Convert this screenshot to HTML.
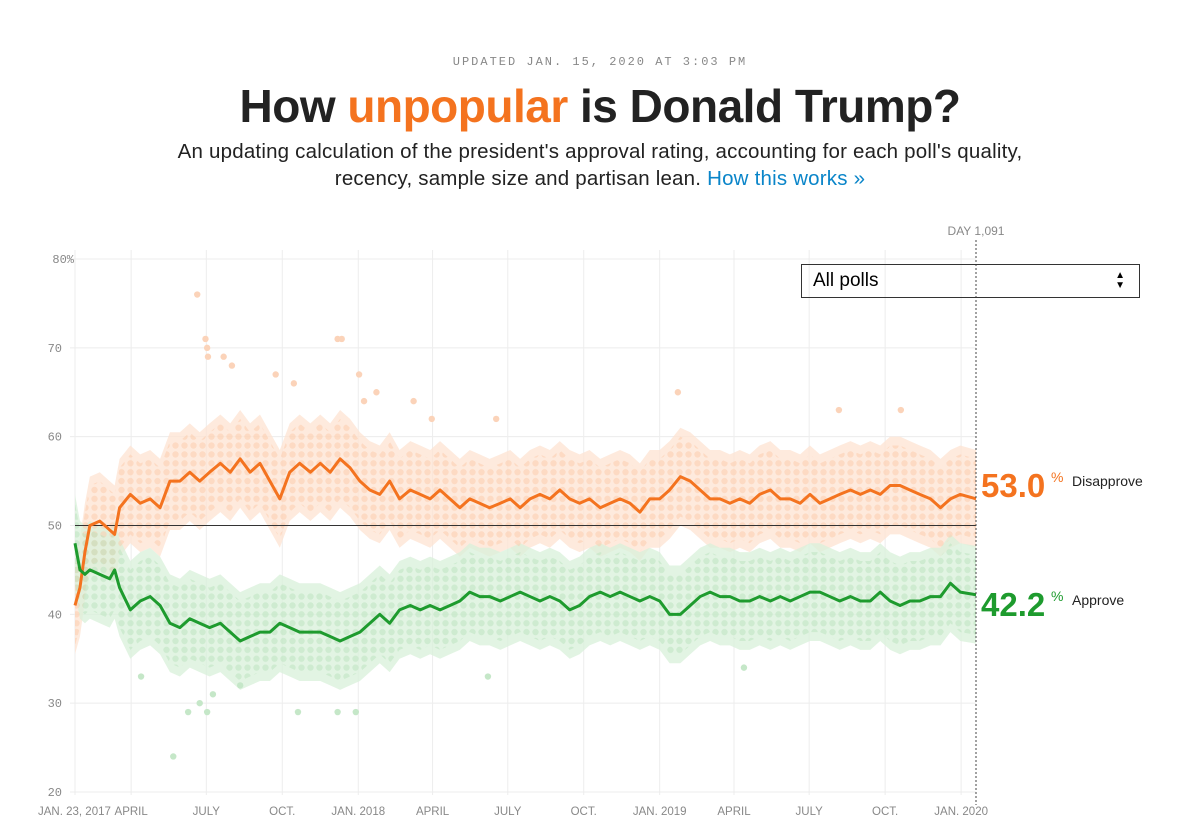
<!DOCTYPE html>
<html><head><meta charset="utf-8"><style>
body{margin:0;background:#fff;width:1200px;height:833px;overflow:hidden;font-family:"Liberation Sans",sans-serif;}
.upd{position:absolute;top:55px;width:1200px;text-align:center;font-family:"Liberation Mono",monospace;font-size:12px;letter-spacing:2px;color:#888;}
h1{position:absolute;top:79px;width:1200px;margin:0;text-align:center;font-size:46px;font-weight:bold;color:#222;letter-spacing:-0.5px}
h1 span{color:#f4731f}
.sub{position:absolute;top:138px;width:1200px;text-align:center;font-size:20.5px;line-height:27px;color:#222;letter-spacing:0.2px}
.sub a{color:#0a85c9;text-decoration:none}
.dd{position:absolute;left:801px;top:264px;width:337px;height:32px;border:1.5px solid #333;font-size:19px;line-height:32px;box-sizing:content-box}
.dd span{margin-left:11px}
.dd i{position:absolute;right:14px;top:6px;font-style:normal;font-size:10px;line-height:10px}
</style></head><body>
<div class="upd">UPDATED JAN. 15, 2020 AT 3:03 PM</div>
<h1>How <span>unpopular</span> is Donald Trump?</h1>
<div class="sub">An updating calculation of the president's approval rating, accounting for each poll's quality,<br>recency, sample size and partisan lean. <a href="#">How this works »</a></div>
<svg id="chart" width="1200" height="833" style="position:absolute;left:0;top:0"></svg>
<div class="dd"><span>All polls</span><i>▲<br>▼</i></div>
<script>
const days=[0,6,12,18,30,42,48,54,67,79,91,103,115,127,139,151,163,176,188,200,212,224,236,248,260,272,285,297,309,321,333,345,357,369,381,393,406,418,430,442,454,466,478,490,502,515,527,539,551,563,575,587,599,611,623,636,648,660,672,684,696,708,720,733,745,757,769,781,793,805,817,829,842,854,866,878,890,902,914,926,939,951,963,975,987,999,1011,1023,1036,1048,1060,1072,1091];
const disapprove=[41,43,47,50,50.5,49.5,49,52,53.5,52.5,53,52,55,55,56,55,56,57,56,57.5,56,57,55,53,56,57,56,57,56,57.5,56.5,55,54,53.5,55,53,54,53.5,53,54,53,52,53,52.5,52,52.5,53,52,53,53.5,53,54,53,52.5,53,52,52.5,53,52.5,51.5,53,53,54,55.5,55,54,53,53,52.5,53,52.5,53.5,54,53,53,52.5,53.5,52.5,53,53.5,54,53.5,54,53.5,54.5,54.5,54,53.5,53,52,53,53.5,53];
const approve=[48,45,44.5,45,44.5,44,45,43,40.5,41.5,42,41,39,38.5,39.5,39,38.5,39,38,37,37.5,38,38,39,38.5,38,38,38,37.5,37,37.5,38,39,40,39,40.5,41,40.5,41,40.5,41,41.5,42.5,42,42,41.5,42,42.5,42,41.5,42,41.5,40.5,41,42,42.5,42,42.5,42,41.5,42,41.5,40,40,41,42,42.5,42,42,41.5,41.5,42,41.5,42,41.5,42,42.5,42.5,42,41.5,42,41.5,41.5,42.5,41.5,41,41.5,41.5,42,42,43.5,42.5,42.2];
const outDays=[148,158,160,161,180,190,243,265,318,323,344,350,365,410,432,510,730,1000,925];
const outVals=[76,71,70,69,69,68,67,66,71,71,67,64,65,64,62,62,65,63,63];
const outDaysG=[119,137,151,160,167,270,318,340,500,810,80,200];
const outValsG=[24,29,30,29,31,29,29,29,33,34,33,32];
const yTicks=[20,30,40,50,60,70,80];
const xTickDays=[0,68,159,251,343,433,524,616,708,798,889,981,1073];
const xTickLabels=["JAN. 23, 2017","APRIL","JULY","OCT.","JAN. 2018","APRIL","JULY","OCT.","JAN. 2019","APRIL","JULY","OCT.","JAN. 2020"];
const latestDis=53.0, latestApp=42.2;

const NS="http://www.w3.org/2000/svg",svg=document.getElementById('chart');
const X=d=>75+d*(976-75)/1091, Y=v=>792-(v-20)*(792-259)/60;
function el(t,a,p){const e=document.createElementNS(NS,t);for(const k in a)e.setAttribute(k,a[k]);(p||svg).appendChild(e);return e;}
const defs=el('defs',{});
[['po','#fbc9a8'],['pg','#b9e2bd']].forEach(([id,c])=>{
 const p=el('pattern',{id:id,x:0,y:Y(80),width:9,height:(792-259)/60,patternUnits:'userSpaceOnUse'},defs);
 el('circle',{cx:4.5,cy:0,r:3.2,fill:c},p);el('circle',{cx:4.5,cy:(792-259)/60,r:3.2,fill:c},p);
});
yTicks.forEach(v=>{
 const l=el('line',{x1:70,x2:976,y1:Y(v),y2:Y(v),stroke:'#ececec'});
 
 const t=el('text',{x:v==80?74:62,y:Y(v)+4,'text-anchor':'end','font-size':12,fill:'#888','font-family':'Liberation Mono, monospace'});
 t.textContent=v==80?'80%':v;
 
});
xTickDays.forEach((d,i)=>{
 const l=el('line',{x1:X(d),x2:X(d),y1:250,y2:795,stroke:'#ededed'});
 
 const t=el('text',{x:i==0?38:X(d),y:815,'text-anchor':i==0?'start':'middle','font-size':11.5,fill:'#888'});
 t.textContent=xTickLabels[i];
 
});
function band(vals,fill,op,h,name){
 let up=days.map((d,i)=>X(d)+','+Y(vals[i]+h)),dn=days.map((d,i)=>X(d)+','+Y(vals[i]-h)).reverse();
 const p=el('polygon',{points:up.concat(dn).join(' '),fill:fill,opacity:op});
 
}
band(disapprove,'#fde3d2',0.75,5.5,'disapprove-band');
band(approve,'#d8f0da',0.75,5.5,'approve-band');
band(disapprove,'url(#po)',0.5,4.5,'disapprove-poll-dots');
band(approve,'url(#pg)',0.5,4.5,'approve-poll-dots');
outDays.forEach((d,i)=>{const c=el('circle',{cx:X(d),cy:Y(outVals[i]),r:3.2,fill:'#fbd3b9'});
 });
outDaysG.forEach((d,i)=>{const c=el('circle',{cx:X(d),cy:Y(outValsG[i]),r:3.2,fill:'#c5e7c8'});
 });
const fifty=el('line',{x1:75,x2:976,y1:Y(50),y2:Y(50),stroke:'#333','stroke-width':1});

function line(vals,c,name){
 const p=el('polyline',{points:days.map((d,i)=>X(d)+','+Y(vals[i])).join(' '),fill:'none',stroke:c,'stroke-width':3,'stroke-linejoin':'round'});
 
}
line(disapprove,'#f4731f','disapprove-line');
line(approve,'#1e9b2e','approve-line');
const dl=el('line',{x1:976,x2:976,y1:240,y2:805,stroke:'#444','stroke-dasharray':'2,2'});

const dt=el('text',{x:976,y:235,'text-anchor':'middle','font-size':12,fill:'#888'});dt.textContent='DAY 1,091';

function lab(v,c,txt,name,off){
 const yy=Y(v)+off;
 const t=el('text',{x:981,y:yy+12,'font-size':33,'font-weight':'bold',fill:c});t.textContent=v.toFixed(1);
 
 const p=el('text',{x:1051,y:yy-3,'font-size':14,fill:c});p.textContent='%';
 
 const l=el('text',{x:1072,y:yy+1,'font-size':14,fill:'#222'});l.textContent=txt;
 
}
lab(latestDis,'#f4731f','Disapprove','disapprove',-14);
lab(latestApp,'#1e9b2e','Approve','approve',9);
</script>
</body></html>
